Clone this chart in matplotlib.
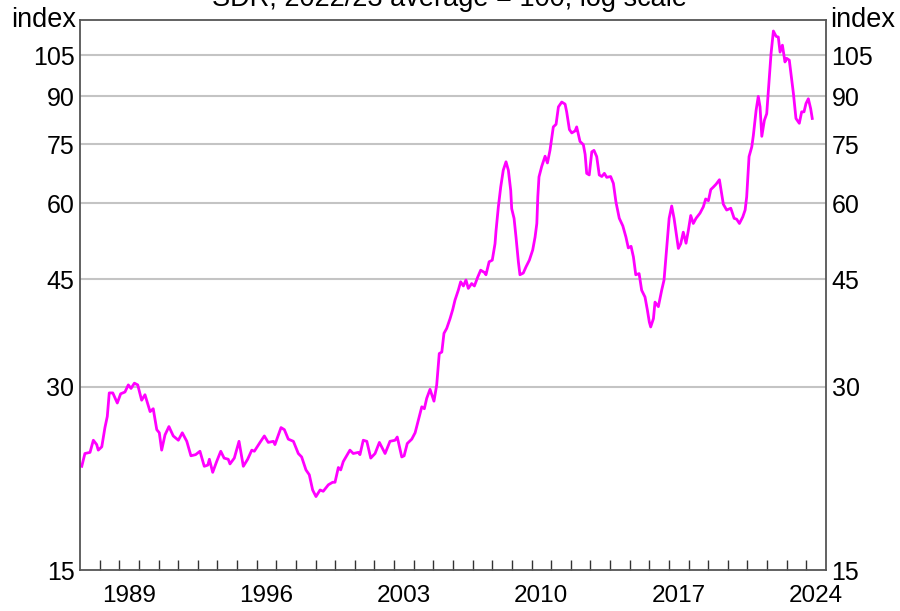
import numpy as np
import matplotlib.pyplot as plt
from matplotlib.ticker import FixedLocator, NullFormatter, NullLocator

# --> Data (year, index value)
years = [
    1987.09, 1987.25, 1987.51, 1987.68, 1987.85, 1987.93, 1988.11, 1988.27, 1988.39, 1988.49,
    1988.67, 1988.90, 1989.07, 1989.29, 1989.46, 1989.60, 1989.77, 1989.94, 1990.14, 1990.31,
    1990.57, 1990.73, 1990.91, 1991.04, 1991.16, 1991.33, 1991.53, 1991.75, 1992.01, 1992.21,
    1992.44, 1992.65, 1992.89, 1993.11, 1993.33, 1993.51, 1993.59, 1993.76, 1993.96, 1994.17,
    1994.34, 1994.55, 1994.64, 1994.86, 1995.10, 1995.32, 1995.54, 1995.75, 1995.88, 1996.17,
    1996.39, 1996.59, 1996.85, 1996.93, 1997.24, 1997.41, 1997.61, 1997.87, 1998.12, 1998.29,
    1998.51, 1998.68, 1998.85, 1999.02, 1999.23, 1999.39, 1999.65, 1999.87, 1999.99, 2000.16,
    2000.28, 2000.41, 2000.75, 2000.92, 2001.18, 2001.26, 2001.43, 2001.61, 2001.81, 2002.03,
    2002.25, 2002.54, 2002.79, 2003.05, 2003.16, 2003.39, 2003.51, 2003.67, 2003.90, 2004.07,
    2004.23, 2004.41, 2004.54, 2004.66, 2004.83, 2005.03, 2005.17, 2005.30, 2005.43, 2005.54,
    2005.68, 2005.85, 2005.99, 2006.10, 2006.27, 2006.39, 2006.53, 2006.66, 2006.78, 2006.95,
    2007.09, 2007.26, 2007.41, 2007.60, 2007.68, 2007.84, 2008.00, 2008.14, 2008.19, 2008.31,
    2008.43, 2008.56, 2008.70, 2008.82, 2008.94, 2008.99, 2009.11, 2009.21, 2009.33, 2009.41,
    2009.58, 2009.72, 2009.89, 2010.06, 2010.18, 2010.27, 2010.32, 2010.38, 2010.52, 2010.69,
    2010.81, 2010.94, 2011.11, 2011.25, 2011.37, 2011.54, 2011.71, 2011.79, 2011.93, 2012.05,
    2012.22, 2012.30, 2012.47, 2012.64, 2012.73, 2012.81, 2012.94, 2013.07, 2013.18, 2013.32,
    2013.45, 2013.58, 2013.71, 2013.83, 2014.03, 2014.17, 2014.30, 2014.47, 2014.65, 2014.81,
    2014.93, 2015.07, 2015.19, 2015.31, 2015.48, 2015.61, 2015.78, 2015.90, 2016.00, 2016.07,
    2016.21, 2016.29, 2016.46, 2016.63, 2016.75, 2016.89, 2017.01, 2017.14, 2017.26, 2017.36,
    2017.48, 2017.60, 2017.73, 2017.87, 2017.99, 2018.11, 2018.24, 2018.38, 2018.58, 2018.75,
    2018.87, 2019.01, 2019.13, 2019.26, 2019.40, 2019.57, 2019.77, 2019.94, 2020.15, 2020.32,
    2020.45, 2020.59, 2020.76, 2020.88, 2020.96, 2021.08, 2021.22, 2021.30, 2021.44, 2021.55,
    2021.64, 2021.73, 2021.86, 2021.98, 2022.10, 2022.20, 2022.32, 2022.46, 2022.57, 2022.66,
    2022.78, 2022.91, 2023.00, 2023.13, 2023.34, 2023.47, 2023.64, 2023.76, 2023.88, 2023.98,
    2024.10, 2024.22, 2024.30,
]
index_values = [
    22.2, 23.3, 23.4, 24.5, 24.1, 23.6, 23.9, 25.7, 26.8, 29.3,
    29.3, 28.2, 29.2, 29.4, 30.2, 29.8, 30.4, 30.2, 28.5, 29.1,
    27.3, 27.6, 25.5, 25.2, 23.6, 25.0, 25.8, 24.9, 24.5, 25.2,
    24.4, 23.1, 23.2, 23.5, 22.2, 22.3, 22.8, 21.7, 22.6, 23.5,
    22.9, 22.8, 22.4, 22.9, 24.4, 22.2, 22.8, 23.6, 23.5, 24.3,
    24.9, 24.3, 24.4, 24.1, 25.7, 25.5, 24.6, 24.4, 23.3, 23.0,
    21.9, 21.5, 20.3, 19.8, 20.3, 20.2, 20.7, 20.9, 20.9, 22.1,
    21.9, 22.6, 23.6, 23.3, 23.4, 23.2, 24.5, 24.4, 22.9, 23.3,
    24.3, 23.3, 24.4, 24.5, 24.8, 23.0, 23.1, 24.2, 24.6, 25.2,
    26.4, 27.8, 27.6, 28.7, 29.7, 28.4, 30.2, 34.0, 34.2, 36.7,
    37.4, 38.8, 40.2, 41.6, 43.2, 44.6, 43.9, 44.9, 43.5, 44.3,
    43.9, 45.4, 46.6, 46.2, 45.8, 48.1, 48.4, 51.5, 54.0, 59.2,
    63.8, 68.0, 70.2, 68.0, 63.0, 58.8, 56.7, 52.8, 48.1, 45.8,
    46.1, 47.2, 48.4, 50.3, 52.8, 55.6, 61.5, 66.3, 69.0, 71.7,
    69.9, 73.3, 80.1, 80.9, 86.4, 88.0, 87.3, 84.8, 79.3, 78.3,
    78.9, 80.1, 75.8, 74.9, 72.2, 67.2, 66.8, 72.9, 73.3, 71.6,
    66.8, 66.4, 67.2, 66.2, 66.4, 64.7, 60.3, 56.7, 55.1, 52.8,
    50.7, 51.0, 49.0, 45.8, 46.0, 43.2, 42.1, 40.1, 38.3, 37.6,
    38.8, 41.3, 40.6, 43.2, 44.9, 50.9, 56.7, 59.4, 56.7, 53.8,
    50.6, 51.5, 53.8, 51.6, 54.2, 57.3, 55.6, 56.7, 57.8, 59.2,
    61.0, 60.6, 63.2, 63.8, 64.5, 65.6, 59.8, 58.5, 58.9, 56.7,
    56.5, 55.6, 57.0, 58.5, 61.5, 71.6, 74.3, 77.6, 85.3, 89.9,
    86.4, 77.3, 82.1, 84.2, 95.5, 105.6, 115.1, 112.8, 112.5, 106.3,
    109.1, 102.4, 103.8, 103.1, 90.9, 82.7, 81.2, 84.8, 84.8, 87.5,
    89.1, 85.8, 82.7,
]

y_ticks = [15, 30, 45, 60, 75, 90, 105]
x_labels = [1989, 1996, 2003, 2010, 2017, 2024]
title = "SDR; 2022/23 average = 100; log scale"

# --> Fonts
plt.rcParams['font.family'] = ['Liberation Sans', 'DejaVu Sans']
fs_y = 18
fs_x = 17.5
fs_top = 19.5

fig = plt.figure(figsize=(9, 6.11), dpi=100)
ax = fig.add_axes([80 / 900, 1 - 570 / 611, 746 / 900, 550 / 611])

ax.plot(years, index_values, color='#ff00ff', lw=2, solid_joinstyle='round')

# --> Log y axis
ax.set_yscale('log')
ax.set_ylim(15, 120)
ax.yaxis.set_major_locator(FixedLocator(y_ticks))
ax.yaxis.set_minor_locator(NullLocator())
ax.set_yticklabels([str(t) for t in y_ticks])
for t in y_ticks[1:]:
    ax.axhline(t, color='#c4c4c4', lw=1.5, zorder=0)

ax.tick_params(axis='y', which='both', length=0, labelsize=fs_y, pad=4,
               left=True, right=True, labelleft=True, labelright=True)

# --> X axis: yearly ticks inside, labels mid-year
ax.set_xlim(1987, 2025)
ax.set_xticks([y + 0.5 for y in x_labels])
ax.set_xticklabels([str(y) for y in x_labels])
ax.set_xticks(np.arange(1988, 2025), minor=True)
ax.xaxis.set_minor_formatter(NullFormatter())
ax.tick_params(axis='x', which='major', length=0, labelsize=fs_x, pad=11)
ax.tick_params(axis='x', which='minor', direction='in', length=7, width=1, color='#333333')

for s in ax.spines.values():
    s.set_color('#555555')
    s.set_linewidth(1.3)

# --> Unit labels and cut-off title
fig.text(76 / 900, 1 - 20 / 611, 'index', ha='right', va='center', fontsize=fs_top)
fig.text(830 / 900, 1 - 20 / 611, 'index', ha='left', va='center', fontsize=fs_top)
fig.text(0.5, 1 - 6 / 611, title, ha='center', va='baseline', fontsize=fs_top)

fig.savefig('out.png', dpi=100)
